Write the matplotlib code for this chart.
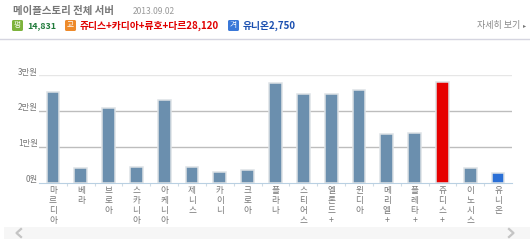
"""Server population bar chart with the page header and scrollbar around it."""
import matplotlib
matplotlib.use("Agg")
import matplotlib.pyplot as plt
from matplotlib.patches import Rectangle, FancyBboxPatch
from matplotlib.transforms import ScaledTranslation

plt.rcParams["font.family"] = ["Noto Sans CJK KR", "DejaVu Sans"]

servers = ["마르디아", "베라", "브로아", "스카니아", "아케니아", "제니스", "카이니", "크로아", "플라나",
           "스티어스", "옐론드+", "윈디아", "메리엘+", "플레타+", "쥬디스+", "이노시스", "유니온"]
values = [25200, 4000, 20800, 4200, 22900, 4200, 2800, 3500, 27800,
          24700, 24700, 25800, 13600, 13900, 28120, 4000, 2750]
colors = ["#6b8fae"] * 14 + ["#e60000", "#6b8fae", "#2a6fd6"]
yticks = [0, 10000, 20000, 30000]
ylabels = ["0원", "1만원", "2만원", "3만원"]

W, H = 530, 243
fig = plt.figure(figsize=(W / 100, H / 100), dpi=100)

# page chrome, in pixels
page = fig.add_axes([0, 0, 1, 1])
page.set_xlim(0, W); page.set_ylim(H, 0); page.axis("off")

page.text(13, 11, "메이플스토리 전체 서버", fontsize=7.5, color="#777777", weight="bold", va="center")
page.text(133, 11.5, "2013.09.02", fontsize=6.1, color="#999999", va="center")

for x, fc, ch in [(12, "#7db33c", "펑"), (65, "#ee8a2a", "교"), (228, "#3a78d8", "겨")]:
    page.add_patch(FancyBboxPatch((x + 0.5, 20.5), 10, 10, boxstyle="round,pad=0.5,rounding_size=1.5", fc=fc, ec="none"))
    page.text(x + 5.5, 25.5, ch, fontsize=5.5, color="white", ha="center", va="center")

page.text(27, 25.5, "14,831", fontsize=6.4, color="#1f7a3a", weight="bold", va="center")
page.text(80, 25.5, "쥬디스+카디아+류호+다르28,120", fontsize=7.05, color="#e00000", weight="bold", va="center")
page.text(243, 25.5, "유니온2,750", fontsize=7.0, color="#1a4fb0", weight="bold", va="center")
page.text(477, 25.5, "자세히 보기", fontsize=6.5, color="#888888", va="center")
page.text(523, 25.5, "▸", fontsize=4.5, color="#777777", va="center")

page.plot([0, W], [39.5, 39.5], color="#d5d5e0", lw=1)

# scrollbar strip
page.add_patch(Rectangle((4, 227), 526, 12, fc="#f6f6f6", ec="none"))
page.plot([21, 16.5, 21], [229, 233, 237], color="#c4c4c4", lw=1.6)
page.plot([509, 513.5, 509], [229, 233, 237], color="#c4c4c4", lw=1.6)

# chart
ax = fig.add_axes([39 / W, 1 - 182.5 / H, 473 / W, 107.5 / H])
ax.patch.set_alpha(0)
ax.set_xlim(-0.5, len(servers) - 0.5)
ax.set_ylim(0, 30000)
ax.bar(range(len(servers)), values, width=0.46, color=colors, edgecolor="#dde2e6", linewidth=1.1, zorder=3)

for t in yticks[1:]:
    ax.axhline(t, color="#e6e6e6" if t == 30000 else "#bdbdbd", lw=1, zorder=1)

for s in ["top", "right", "left"]:
    ax.spines[s].set_visible(False)
ax.spines["bottom"].set_color("#b9d0e2")

ax.set_yticks(yticks)
ax.set_yticklabels(ylabels, fontsize=6, color="#777777")
ax.tick_params(axis="y", length=0, pad=1)
# y labels sit a few pixels above their grid line
for lab in ax.get_yticklabels():
    lab.set_transform(lab.get_transform() + ScaledTranslation(0, 4 / 100, fig.dpi_scale_trans))
ax.set_xticks([i - 0.5 for i in range(1, len(servers))], minor=False)
ax.set_xticklabels([])
ax.tick_params(axis="x", length=2.5, color="#cfdbe5", width=0.8)

for i, name in enumerate(servers):
    ax.annotate("\n".join(name), (i, 0), xytext=(0, -3.5), textcoords="offset pixels",
                ha="center", va="top", fontsize=6.2, color="#777777", linespacing=1.15)

fig.savefig("out.png", dpi=100)
